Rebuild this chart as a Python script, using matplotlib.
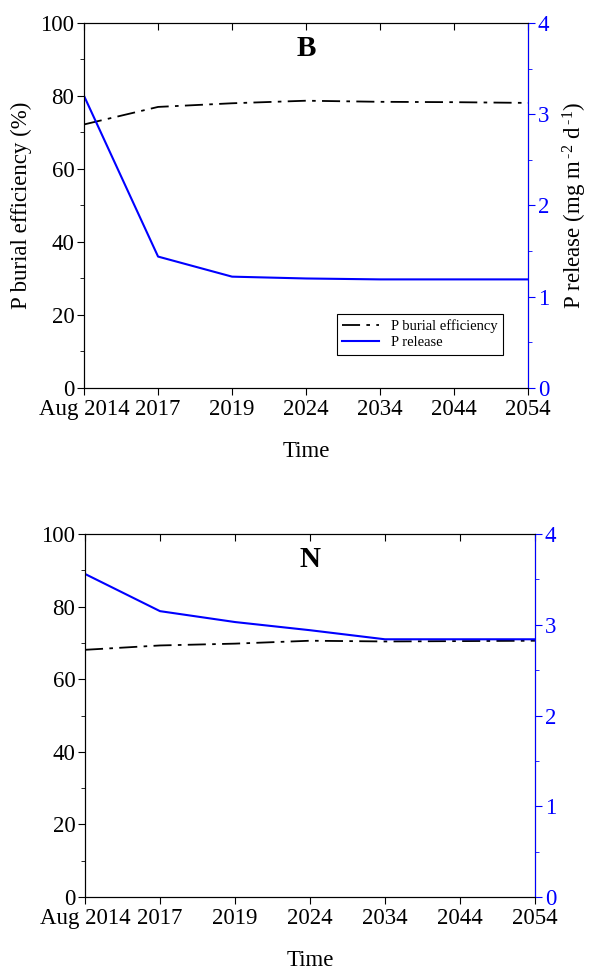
import numpy as np
import matplotlib as mpl
mpl.use('Agg')
import matplotlib.pyplot as plt
from matplotlib.ticker import MultipleLocator

plt.rcParams['font.family'] = ['Liberation Serif', 'DejaVu Serif']
plt.rcParams['mathtext.fontset'] = 'custom'
plt.rcParams['mathtext.rm'] = 'Liberation Serif'
plt.rcParams['mathtext.it'] = 'Liberation Serif:italic'

times = ['Aug 2014', '2017', '2019', '2024', '2034', '2044', '2054']

# panel B
burial_b = [72.2, 77.0, 78.0, 78.7, 78.4, 78.3, 78.1]
release_b = [3.20, 1.44, 1.22, 1.20, 1.19, 1.19, 1.19]

# panel N
burial_n = [68.1, 69.3, 69.8, 70.6, 70.4, 70.5, 70.6]
release_n = [3.56, 3.15, 3.03, 2.94, 2.84, 2.84, 2.84]

fig = plt.figure(figsize=(5.92, 9.69), dpi=100)
fs = 16.5
dash = (0, (10, 3.5, 2, 3.5))


def panel(rect, burial, release, letter, labels):
    ax = fig.add_axes(rect)
    x = np.arange(len(times))
    l1, = ax.plot(x, burial, color='black', lw=1.3, linestyle=dash, label='P burial efficiency')
    ax.set_xlim(0, len(times) - 1)
    ax.set_ylim(0, 100)
    ax.set_xticks(x)
    ax.set_xticklabels(times, fontsize=fs)
    ax.yaxis.set_major_locator(MultipleLocator(20))
    ax.yaxis.set_minor_locator(MultipleLocator(10))
    ax.tick_params(axis='y', which='both', labelsize=fs, direction='out', right=False, pad=2)
    ax.tick_params(axis='y', which='major', length=5)
    ax.tick_params(axis='y', which='minor', length=3)
    ax.tick_params(axis='x', direction='out', length=5, top=True, labelsize=fs, pad=3)
    ax.set_xlabel('Time', fontsize=fs, labelpad=15)
    ax.text(0.5, 0.93, letter, transform=ax.transAxes, ha='center', va='center',
            fontsize=21, fontweight='bold')

    ax2 = ax.twinx()
    l2, = ax2.plot(x, release, color='blue', lw=1.5, label='P release')
    ax2.set_ylim(0, 4)
    ax2.yaxis.set_major_locator(MultipleLocator(1))
    ax2.yaxis.set_minor_locator(MultipleLocator(0.5))
    ax2.tick_params(axis='y', which='both', colors='blue', labelsize=fs, direction='out', pad=2)
    ax2.tick_params(axis='y', which='major', length=5)
    ax2.tick_params(axis='y', which='minor', length=3)
    ax2.spines['right'].set_color('blue')
    # top ticks pointing inward
    for t in ax.xaxis.get_major_ticks():
        t.tick2line.set_marker(3)
    if labels:
        ax.set_ylabel('P burial efficiency (%)', fontsize=fs, labelpad=6)
        ax2.set_ylabel('P release (mg m$\\,^{\\mathrm{\u2010}2}$ d$\\,^{\\mathrm{\u2010}1}$)',
                       fontsize=fs, color='black', labelpad=8)
        leg = ax2.legend([l1, l2], ['P burial efficiency', 'P release'], loc='lower right',
                         bbox_to_anchor=(0.96, 0.07), fontsize=10.5, frameon=True,
                         fancybox=False, edgecolor='black', framealpha=1,
                         handlelength=2.5, borderpad=0.4, labelspacing=0.2)
        leg.get_frame().set_linewidth(0.8)
    return ax, ax2


panel([0.142, 0.5996, 0.75, 0.3767], burial_b, release_b, 'B', True)
panel([0.1436, 0.0743, 0.760, 0.3746], burial_n, release_n, 'N', False)

fig.savefig('out.png', dpi=100)
